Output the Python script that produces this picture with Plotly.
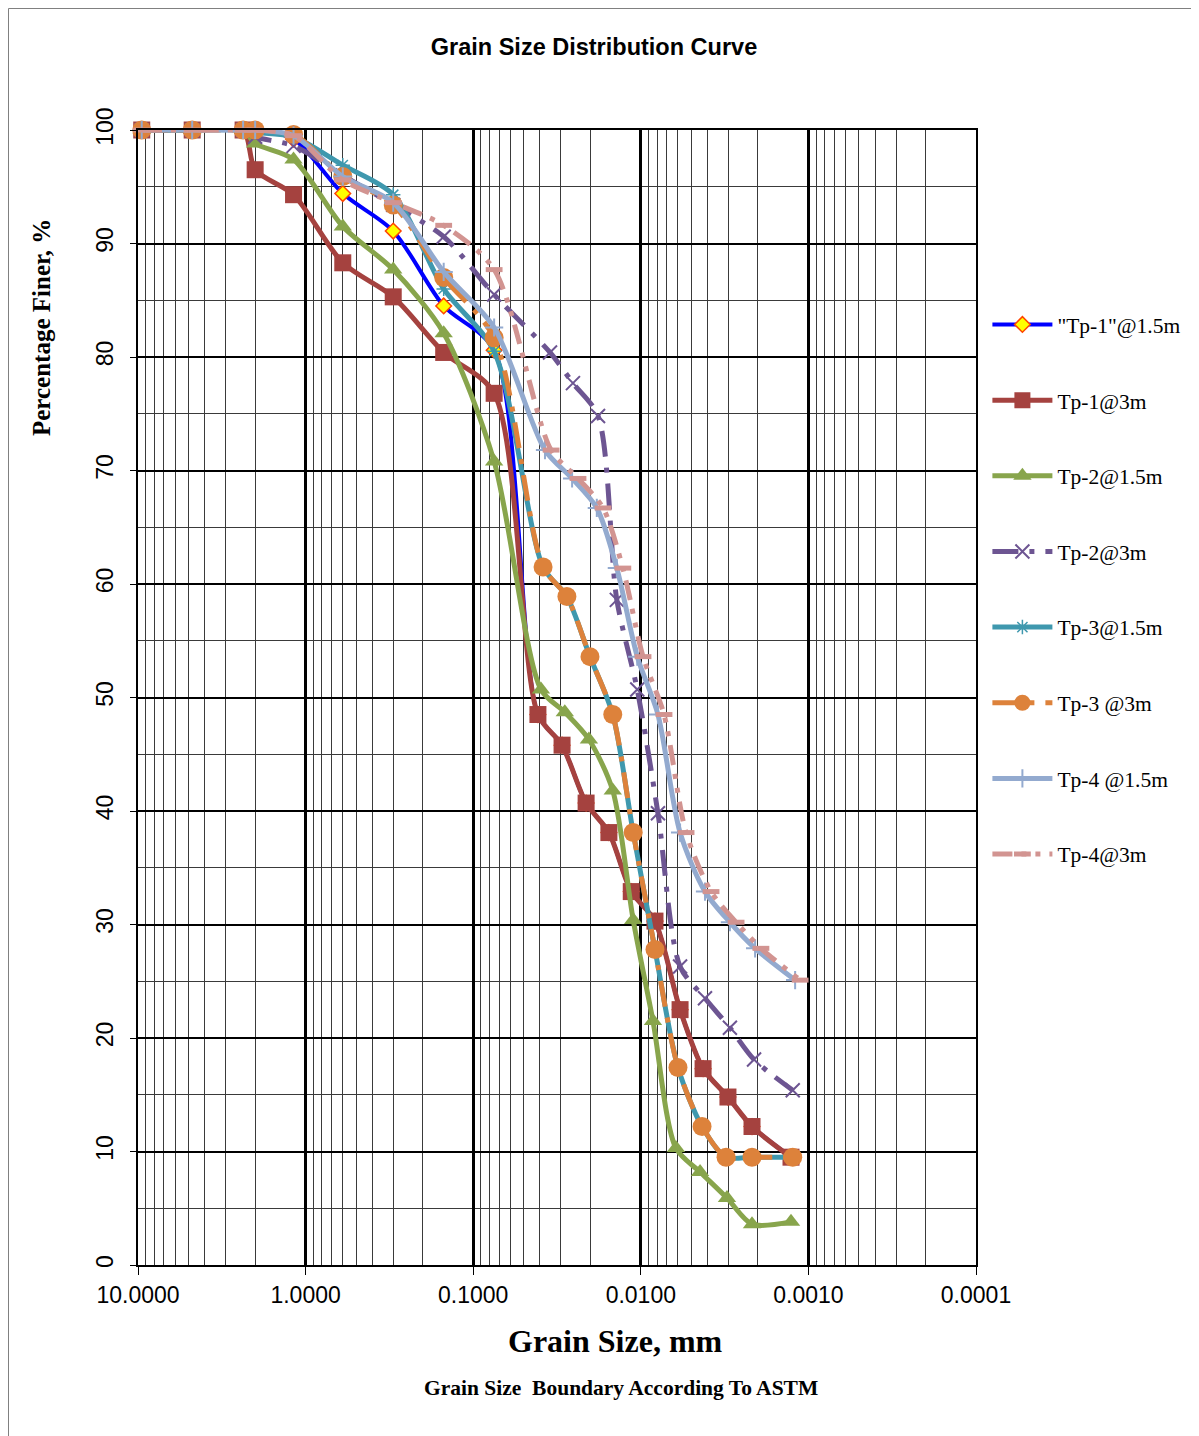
import plotly.graph_objects as go

# ---------------- data ----------------
sieve_mm = [9.5, 4.75, 2.36, 2.0, 1.18, 0.6, 0.3, 0.15, 0.075]

# hydrometer grain diameters (mm)
hyd_tp1 = [0.0411, 0.0295, 0.0212, 0.0155, 0.0114, 0.00823, 0.00583, 0.00425, 0.00302, 0.00217, 0.00127]
hyd_tp2a = [0.0394, 0.0284, 0.0204, 0.0147, 0.0111, 0.00846, 0.00617, 0.00443, 0.00306, 0.00217, 0.00127]
hyd_tp2b = [0.0348, 0.0254, 0.0180, 0.0139, 0.0105, 0.0079, 0.00583, 0.00414, 0.00294, 0.00211, 0.00124]
hyd_tp3 = [0.0383, 0.0276, 0.0201, 0.0147, 0.0111, 0.00823, 0.00600, 0.00431, 0.00310, 0.00217, 0.00124]
hyd_tp4a = [0.0373, 0.0257, 0.0183, 0.0139, 0.0105, 0.0079, 0.00583, 0.00414, 0.00294, 0.00208, 0.00120]
hyd_tp4b = [0.0343, 0.0237, 0.0168, 0.0128, 0.0097, 0.00727, 0.00537, 0.00381, 0.00270, 0.00192, 0.00112]

# percentage finer: sieve part
tp1_15_sieve = [100, 100, 100, 100, 99.2, 94.4, 91.1, 84.5, 80.6]
tp1_3_sieve = [100, 100, 100, 96.5, 94.3, 88.3, 85.3, 80.4, 76.8]
tp2_15_sieve = [100, 100, 100, 98.8, 97.4, 91.5, 87.7, 82.1, 70.8]
tp2_3_sieve = [100, 100, 100, 99.4, 98.6, 96.0, 93.4, 90.6, 85.5]
tp3_15_sieve = [100, 100, 100, 99.8, 99.4, 96.9, 94.3, 86.0, 80.5]
tp3_3_sieve = [100, 100, 100, 100, 99.6, 95.9, 93.4, 87.0, 81.7]
tp4_15_sieve = [100, 100, 100, 100, 99.5, 95.9, 93.6, 87.5, 82.6]
tp4_3_sieve = [100, 100, 100, 100, 99.5, 95.6, 93.6, 91.6, 87.7]

# percentage finer: hydrometer part
tp1_hyd = [48.5, 45.8, 40.7, 38.1, 32.9, 30.3, 22.5, 17.3, 14.8, 12.2, 9.5]
tp2_15_hyd = [50.7, 48.7, 46.3, 41.8, 30.4, 21.5, 10.3, 8.2, 5.9, 3.6, 3.8]
tp2_3_hyd = [80.4, 77.7, 74.8, 58.6, 50.7, 39.8, 26.3, 23.5, 20.9, 18.1, 15.4]
tp3_hyd = [61.5, 58.9, 53.6, 48.5, 38.1, 27.8, 17.4, 12.2, 9.5, 9.5, 9.5]
tp4_hyd = [71.8, 69.3, 66.7, 61.4, 53.6, 48.5, 38.1, 32.9, 30.2, 27.9, 25.1]

names = ['"Tp-1"@1.5m', 'Tp-1@3m', 'Tp-2@1.5m', 'Tp-2@3m',
         'Tp-3@1.5m', 'Tp-3 @3m', 'Tp-4 @1.5m', 'Tp-4@3m']

x_tickvals = [10, 1, 0.1, 0.01, 0.001, 0.0001]
x_ticktext = ['10.0000', '1.0000', '0.1000', '0.0100', '0.0010', '0.0001']

# ---------------- styles ----------------
series = [
    dict(x=sieve_mm + hyd_tp1, y=tp1_15_sieve + tp1_hyd, color='#0000FF', width=4, dash='solid',
         marker=dict(symbol='diamond', size=12, color='#FFFF00', line=dict(color='#FF4500', width=1.5))),
    dict(x=sieve_mm + hyd_tp1, y=tp1_3_sieve + tp1_hyd, color='#A5423F', width=5, dash='solid',
         marker=dict(symbol='square', size=17, color='#A5423F', line=dict(color='#A5423F', width=0))),
    dict(x=sieve_mm + hyd_tp2a, y=tp2_15_sieve + tp2_15_hyd, color='#88A54C', width=5, dash='solid',
         marker=dict(symbol='triangle-up', size=16, color='#88A54C', line=dict(color='#88A54C', width=0))),
    dict(x=sieve_mm + hyd_tp2b, y=tp2_3_sieve + tp2_3_hyd, color='#6D5592', width=5, dash='26px,11px,5px,11px',
         marker=dict(symbol='x-thin-open', size=14, color='#6D5592', line=dict(color='#6D5592', width=2))),
    dict(x=sieve_mm + hyd_tp3, y=tp3_15_sieve + tp3_hyd, color='#3F98AE', width=5, dash='solid',
         marker=dict(symbol='asterisk-open', size=12, color='#3F98AE', line=dict(color='#3F98AE', width=1.5))),
    dict(x=sieve_mm + hyd_tp3, y=tp3_3_sieve + tp3_hyd, color='#DD823B', width=5, dash='26px,11px,5px,11px',
         marker=dict(symbol='circle', size=19, color='#DD823B', line=dict(color='#DD823B', width=0))),
    dict(x=sieve_mm + hyd_tp4a, y=tp4_15_sieve + tp4_hyd, color='#93AACF', width=5, dash='solid',
         marker=dict(symbol='cross-thin-open', size=13, color='#93AACF', line=dict(color='#93AACF', width=2))),
    dict(x=sieve_mm + hyd_tp4b, y=tp4_3_sieve + tp4_hyd, color='#D29491', width=5, dash='20px,9px,5px,9px,5px,9px',
         marker=dict(symbol='line-ew-open', size=12, color='#D29491', line=dict(color='#D29491', width=5))),
]

fig = go.Figure()
for i, (nm, s) in enumerate(zip(names, series)):
    fig.add_trace(go.Scatter(
        x=s['x'], y=s['y'], name=nm, mode='lines+markers',
        line=dict(color=s['color'], width=s['width'], dash=s['dash'], shape='spline', smoothing=0.8),
        marker=s['marker'], cliponaxis=False, legendgroup=f'g{i}',
    ))

serif = 'Liberation Serif, Times New Roman, serif'
sans = 'Liberation Sans, Arial, sans-serif'

# figure pixel geometry (page body adds an 8px offset in the screenshot)
L, T, PW, PH = 130, 122, 838, 1135
B = T + PH  # 1257

fig.update_layout(
    width=1199, height=1436,
    margin=dict(l=L, r=1199 - L - PW, t=T, b=1436 - B),
    paper_bgcolor='white', plot_bgcolor='white',
    title=dict(text='<b>Grain Size Distribution Curve</b>', x=586 / 1199, xanchor='center',
               y=1 - 39 / 1436, yanchor='middle', font=dict(family=sans, size=23.5, color='black')),
    legend=dict(x=(979.4 - L) / PW, xanchor='left', y=(B - 296) / PH, yanchor='top',
                font=dict(family=serif, size=21.5, color='black'), tracegroupgap=44.7,
                bgcolor='rgba(0,0,0,0)', itemwidth=60),
    xaxis=dict(type='log', range=[1, -4], tickvals=x_tickvals, ticktext=x_ticktext,
               tickfont=dict(family=sans, size=23, color='black'),
               showgrid=True, gridcolor='black', gridwidth=3,
               showline=True, linecolor='black', linewidth=2, mirror=True,
               ticks='outside', ticklen=8, tickcolor='black', tickwidth=1,
               minor=dict(dtick='D1', showgrid=True, gridcolor='#3a3a3a', gridwidth=1, ticks=''),
               zeroline=False),
    yaxis=dict(range=[0, 100], dtick=10, tickangle=-90,
               tickfont=dict(family=sans, size=23, color='black'),
               showgrid=True, gridcolor='black', gridwidth=2,
               showline=True, linecolor='black', linewidth=2, mirror=True,
               ticks='outside', ticklen=6, tickcolor='black', ticklabelstandoff=8,
               minor=dict(dtick=5, showgrid=True, gridcolor='#3a3a3a', gridwidth=1, ticks=''),
               zeroline=False),
)

# axis titles (placed as in the reference, not centred on the plot)
fig.add_annotation(text='<b>Grain Size, mm</b>', xref='paper', yref='paper',
                   x=(607 - L) / PW, y=(B - 1333) / PH, xanchor='center', yanchor='middle',
                   showarrow=False, font=dict(family=serif, size=32, color='black'))
fig.add_annotation(text='<b>Percentage Finer, %</b>', xref='paper', yref='paper', textangle=-90,
                   x=(34 - L) / PW, y=(B - 320) / PH, xanchor='center', yanchor='middle',
                   showarrow=False, font=dict(family=serif, size=25, color='black'))
fig.add_annotation(text='<b>Grain Size  Boundary According To ASTM</b>', xref='paper', yref='paper',
                   x=(613 - L) / PW, y=(B - 1380) / PH, xanchor='center', yanchor='middle',
                   showarrow=False, font=dict(family=serif, size=21.5, color='black'))

fig.add_shape(type='rect', xref='paper', yref='paper',
              x0=(0.5 - L) / PW, x1=(1198 - L) / PW,
              y0=(B - 1435) / PH, y1=(B - 0.5) / PH,
              line=dict(color='#808080', width=1), fillcolor='rgba(0,0,0,0)', layer='below')

fig.write_html('out.html')
